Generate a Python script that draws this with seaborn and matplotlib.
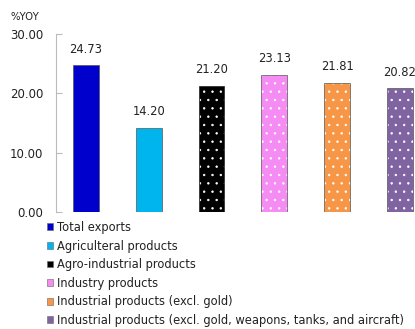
import matplotlib
matplotlib.use("Agg")
import matplotlib.pyplot as plt
import seaborn as sns
import pandas as pd
from matplotlib.patches import Patch
from matplotlib.colors import to_rgba

categories = [
    "Total exports",
    "Agriculteral products",
    "Agro-industrial products",
    "Industry products",
    "Industrial products (excl. gold)",
    "Industrial products (excl. gold, weapons, tanks, and aircraft)",
]
values = [24.73, 14.20, 21.20, 23.13, 21.81, 20.82]
colors = ["#0000CC", "#00B4EE", "#000000", "#F48CF4", "#F79646", "#8064A2"]
hatches = ["", "", "..", "..", "..", ".."]
yticks = [0, 10, 20, 30]

sns.set_theme(style="white")
plt.rcParams["font.family"] = ["DejaVu Sans"]
plt.rcParams["hatch.linewidth"] = 0.5

df = pd.DataFrame({"cat": categories, "val": values})

fig = plt.figure(figsize=(4.15, 3.29), dpi=100)
ax = fig.add_axes([56 / 415, 117 / 329, 359 / 415, 178 / 329])

sns.barplot(data=df, x="cat", y="val", hue="cat", palette=colors,
            width=0.41, legend=False, ax=ax, saturation=1)

white = to_rgba("white")
for p, c, h in zip(ax.patches, colors, hatches):
    p.set_edgecolor("#555555" if c != "#000000" else "#222222")
    p.set_linewidth(0.5)
    if h:
        p.set_hatch(h)
        p._hatch_color = white

for i, v in enumerate(values):
    ax.annotate(f"{v:.2f}", (i, v), xytext=(0, 7), textcoords="offset points",
                ha="center", va="bottom", fontsize=8.3, color="#222222")

ax.set_ylim(0, 30)
ax.set_xlim(-0.478, 5.24)
ax.set_yticks(yticks)
ax.set_yticklabels([f"{t:.2f}" for t in yticks], fontsize=8.5, color="#222222")
ax.set_xticks([])
ax.set_xlabel("")
ax.set_ylabel("")
ax.tick_params(axis="y", direction="in", length=4, width=0.8, color="#BBBBBB", pad=9, left=True)
for s in ["top", "right", "bottom"]:
    ax.spines[s].set_visible(False)
ax.spines["left"].set_color("#BBBBBB")
ax.spines["left"].set_linewidth(0.8)

fig.text(10 / 415, 1 - 17 / 329, "%YOY", fontsize=7.3, color="#222222", va="center", ha="left")

handles = [Patch(facecolor=c, edgecolor="#666666", linewidth=0.4) for c in colors]
fig.legend(handles, categories, loc="upper left", bbox_to_anchor=(47 / 415, 1 - 221 / 329),
           frameon=False, fontsize=8.3, handlelength=0.55, handleheight=0.55,
           handletextpad=0.35, labelspacing=0.48, borderaxespad=0, borderpad=0,
           labelcolor="#222222")

fig.savefig("out.png", dpi=100)
